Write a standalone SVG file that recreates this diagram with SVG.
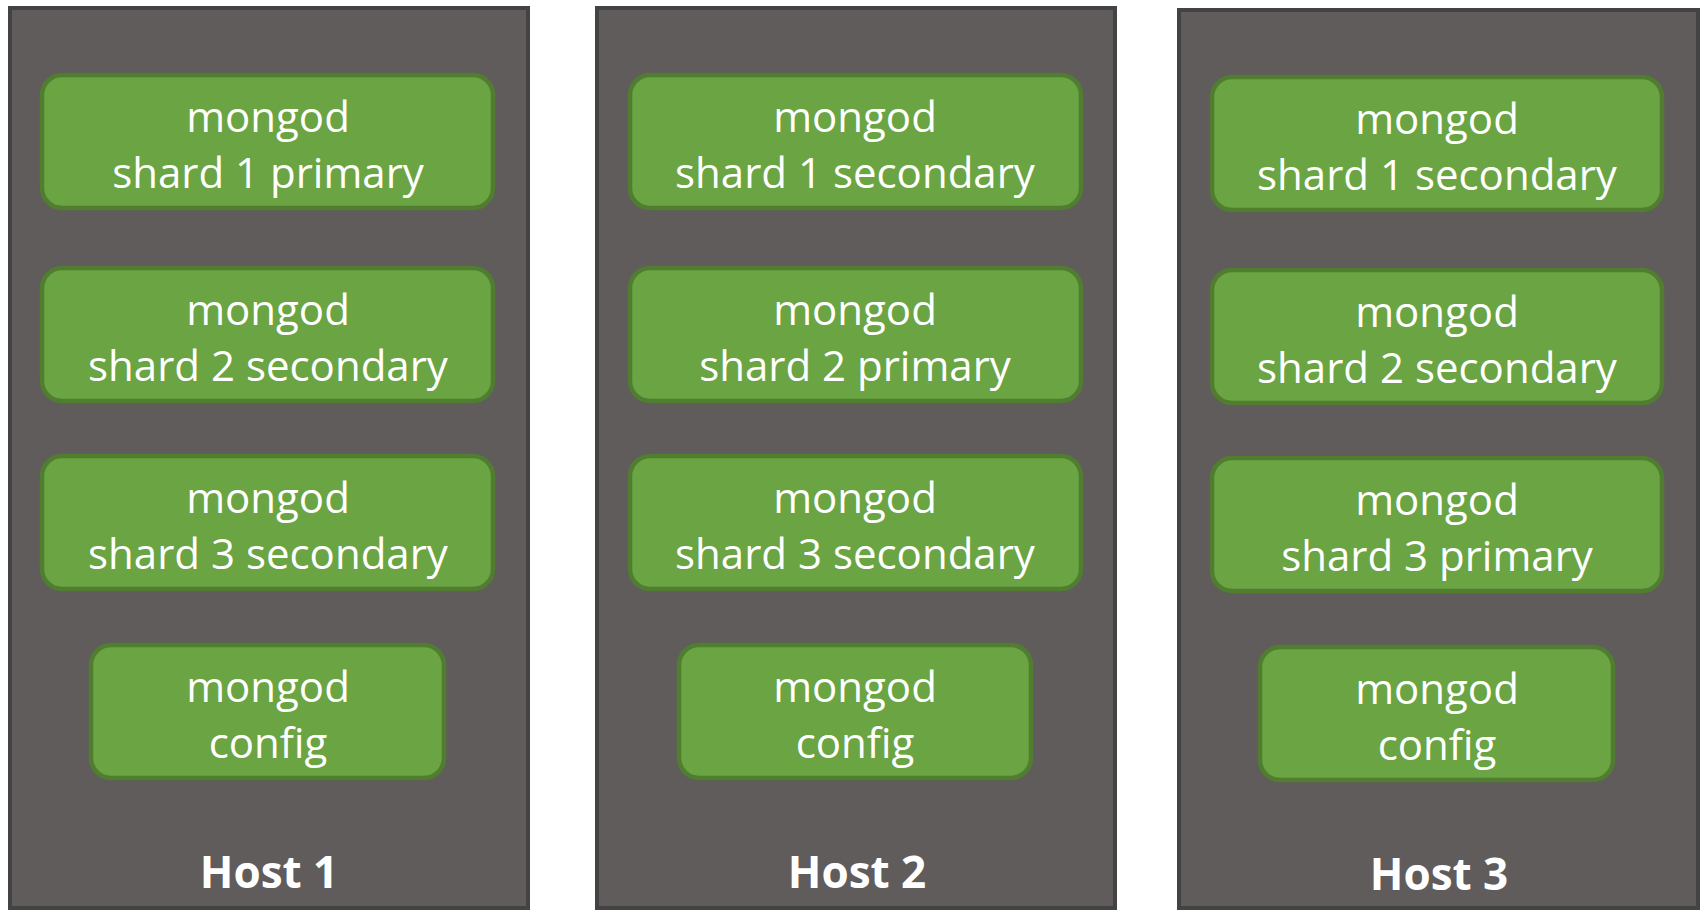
<svg xmlns="http://www.w3.org/2000/svg" width="1701" height="910" viewBox="0 0 1701 910">
  <style>
    .host { fill: #605c5b; stroke: #434343; stroke-width: 4; }
    .proc { fill: #6aa443; stroke: #507d30; stroke-width: 4.5; }
    .lbl { font-family: "Open Sans", "Liberation Sans", sans-serif; font-size: 42px; fill: #ffffff; text-anchor: middle; }
    .hostlbl { font-family: "Open Sans", "Liberation Sans", sans-serif; font-size: 44px; font-weight: bold; fill: #ffffff; text-anchor: middle; }
  </style>
  <rect width="1701" height="910" fill="#ffffff"/>

  <!-- Host 1 -->
  <g id="host1">
    <rect class="host" x="10" y="8" width="518" height="900"/>
    <text class="hostlbl" x="269" y="888">Host 1</text>
  </g>
  <g id="h1-shard1">
    <rect class="proc" x="42" y="75" width="451" height="133" rx="20"/>
    <text class="lbl" x="268" y="132">mongod</text>
    <text class="lbl" x="268" y="188">shard 1 primary</text>
  </g>
  <g id="h1-shard2">
    <rect class="proc" x="42" y="268" width="451" height="133" rx="20"/>
    <text class="lbl" x="268" y="325">mongod</text>
    <text class="lbl" x="268" y="381">shard 2 secondary</text>
  </g>
  <g id="h1-shard3">
    <rect class="proc" x="42" y="456" width="451" height="133" rx="20"/>
    <text class="lbl" x="268" y="513">mongod</text>
    <text class="lbl" x="268" y="569">shard 3 secondary</text>
  </g>
  <g id="h1-config">
    <rect class="proc" x="91" y="645" width="353" height="133" rx="20"/>
    <text class="lbl" x="268" y="702">mongod</text>
    <text class="lbl" x="268" y="758">config</text>
  </g>

  <!-- Host 2 -->
  <g id="host2">
    <rect class="host" x="597" y="8" width="518" height="900"/>
    <text class="hostlbl" x="857" y="888">Host 2</text>
  </g>
  <g id="h2-shard1">
    <rect class="proc" x="630" y="75" width="451" height="133" rx="20"/>
    <text class="lbl" x="855" y="132">mongod</text>
    <text class="lbl" x="855" y="188">shard 1 secondary</text>
  </g>
  <g id="h2-shard2">
    <rect class="proc" x="630" y="268" width="451" height="133" rx="20"/>
    <text class="lbl" x="855" y="325">mongod</text>
    <text class="lbl" x="855" y="381">shard 2 primary</text>
  </g>
  <g id="h2-shard3">
    <rect class="proc" x="630" y="456" width="451" height="133" rx="20"/>
    <text class="lbl" x="855" y="513">mongod</text>
    <text class="lbl" x="855" y="569">shard 3 secondary</text>
  </g>
  <g id="h2-config">
    <rect class="proc" x="679" y="645" width="352" height="133" rx="20"/>
    <text class="lbl" x="855" y="702">mongod</text>
    <text class="lbl" x="855" y="758">config</text>
  </g>

  <!-- Host 3 -->
  <g id="host3">
    <rect class="host" x="1179" y="10" width="519" height="898"/>
    <text class="hostlbl" x="1439" y="890">Host 3</text>
  </g>
  <g id="h3-shard1">
    <rect class="proc" x="1212" y="77" width="450" height="133" rx="20"/>
    <text class="lbl" x="1437" y="134">mongod</text>
    <text class="lbl" x="1437" y="190">shard 1 secondary</text>
  </g>
  <g id="h3-shard2">
    <rect class="proc" x="1212" y="270" width="450" height="133" rx="20"/>
    <text class="lbl" x="1437" y="327">mongod</text>
    <text class="lbl" x="1437" y="383">shard 2 secondary</text>
  </g>
  <g id="h3-shard3">
    <rect class="proc" x="1212" y="458" width="450" height="133" rx="20"/>
    <text class="lbl" x="1437" y="515">mongod</text>
    <text class="lbl" x="1437" y="571">shard 3 primary</text>
  </g>
  <g id="h3-config">
    <rect class="proc" x="1260" y="647" width="353" height="133" rx="20"/>
    <text class="lbl" x="1437" y="704">mongod</text>
    <text class="lbl" x="1437" y="760">config</text>
  </g>

  <!-- no connectors in this layout -->
  <g id="connectors"/>
</svg>
